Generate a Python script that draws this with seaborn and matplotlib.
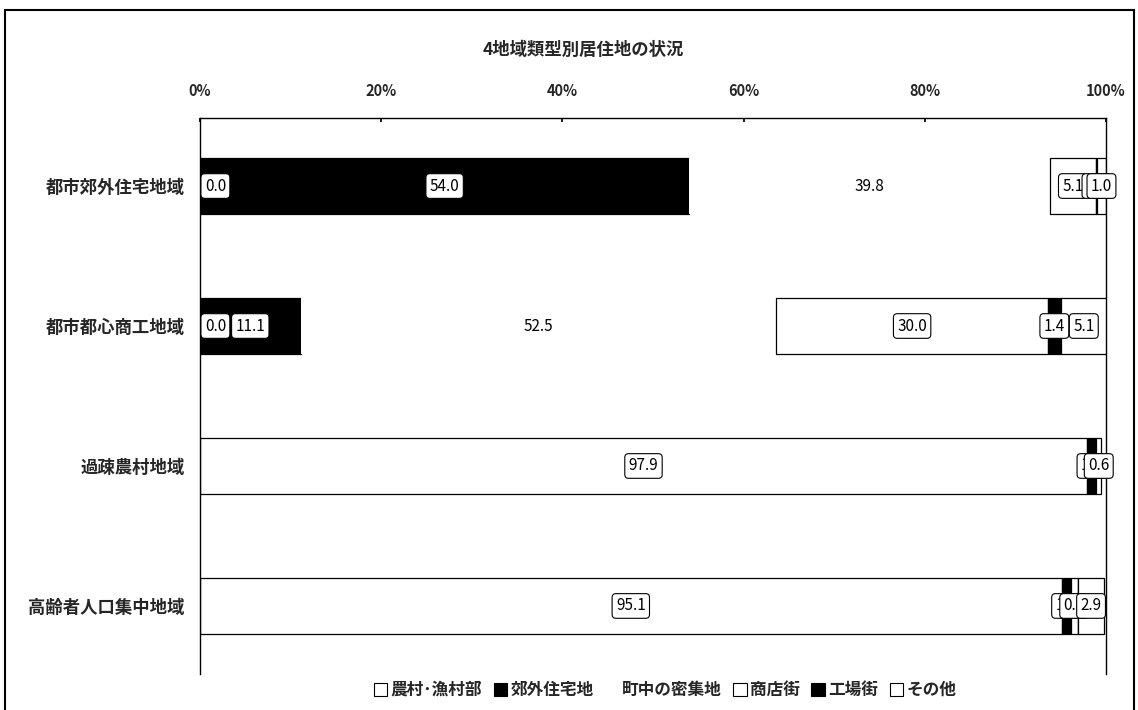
import numpy as np
import pandas as pd
import seaborn as sns
import matplotlib
matplotlib.use("Agg")
import matplotlib.pyplot as plt
from matplotlib.patches import Patch, Rectangle
from matplotlib.transforms import ScaledTranslation

sns.set_theme(style="white")
plt.rcParams['font.family'] = ['Noto Sans CJK JP', 'DejaVu Sans']

title = "4地域類型別居住地の状況"
regions = ["都市郊外住宅地域", "都市都心商工地域", "過疎農村地域", "高齢者人口集中地域"]
categories = ["農村･漁村部", "郊外住宅地", "町中の密集地", "商店街", "工場街", "その他"]

noson = [0.0, 0.0, 97.9, 95.1]
kogai = [54.0, 11.1, 1.0, 1.0]
machinaka = [39.8, 52.5, np.nan, np.nan]
shotengai = [5.1, 30.0, np.nan, 0.8]
kojo = [0.1, 1.4, np.nan, np.nan]
sonota = [1.0, 5.1, 0.6, 2.9]
tick_values = [0, 20, 40, 60, 80, 100]
tick_labels = ["0%", "20%", "40%", "60%", "80%", "100%"]

series = [noson, kogai, machinaka, shotengai, kojo, sonota]
faces = ["white", "black", "white", "white", "black", "white"]
edges = ["black", "black", "none", "black", "black", "black"]

fig = plt.figure(figsize=(11.38, 7.10), dpi=100)
ax = fig.add_axes([200/1138, 1-674/710, 906/1138, 556/710])

left = np.zeros(len(regions))
for vals, fc, ec, cat in zip(series, faces, edges, categories):
    v = np.array(vals, dtype=float)
    df = pd.DataFrame({"region": regions, "value": np.nan_to_num(v)})
    n0 = len(ax.patches)
    sns.barplot(data=df, x="value", y="region", order=regions, orient="h",
                color=fc, edgecolor=ec, linewidth=0.9, width=0.4, ax=ax,
                saturation=1, errorbar=None)
    new = ax.patches[n0:]
    for p, l in zip(new, left):
        p.set_x(l)
        p.set_facecolor(fc)
    for i, (val, l) in enumerate(zip(v, left)):
        if np.isnan(val):
            continue
        cx = max(l + val / 2, 1.7)
        box = dict(boxstyle="round,pad=0.25", fc="white",
                   ec=("black" if ec != "none" else "none"), lw=0.8)
        ax.text(cx, i, f"{val:.1f}", ha="center", va="center", fontsize=11,
                color="black", bbox=box, zorder=5)
    left = left + np.nan_to_num(v)

ax.set_xlim(0, 100)
ax.set_ylim(3.486, -0.486)
ax.set_xlabel("")
ax.set_ylabel("")
ax.xaxis.tick_top()
ax.set_xticks(tick_values)
ax.set_xticklabels(tick_labels, fontsize=10.5, fontweight="bold")
offset = ScaledTranslation(-10/100, 0, fig.dpi_scale_trans)
for lab in ax.get_xticklabels():
    lab.set_transform(lab.get_transform() + offset)
ax.tick_params(axis="x", top=True, direction="in", length=3, pad=14, color="black")
ax.tick_params(axis="y", left=False, pad=5)
for lab in ax.get_yticklabels():
    lab.set_fontsize(12.5)
    lab.set_fontweight("bold")
for s in ["top", "left", "right"]:
    ax.spines[s].set_visible(True)
    ax.spines[s].set_color("black")
    ax.spines[s].set_linewidth(1.0)
ax.spines["bottom"].set_visible(False)

fig.text(583/1138, 1-50/710, title, ha="center", va="center", fontsize=12.5, fontweight="bold")

handles = [Patch(facecolor=fc, edgecolor=(ec if ec != "none" else "none"), linewidth=0.8)
           for fc, ec in zip(faces, edges)]
fig.legend(handles, categories, loc="center", bbox_to_anchor=(665/1138, 1-690/710),
           ncol=6, frameon=False, handlelength=0.8, handleheight=0.8,
           handletextpad=0.2, columnspacing=0.7, prop={"weight": "bold", "size": 12})

fig.patches.append(Rectangle((5/1138, -0.05), 1129/1138, 1.05 - 10/710,
                             transform=fig.transFigure, fill=False,
                             edgecolor="black", linewidth=1.5))

fig.savefig("out.png", dpi=100)
